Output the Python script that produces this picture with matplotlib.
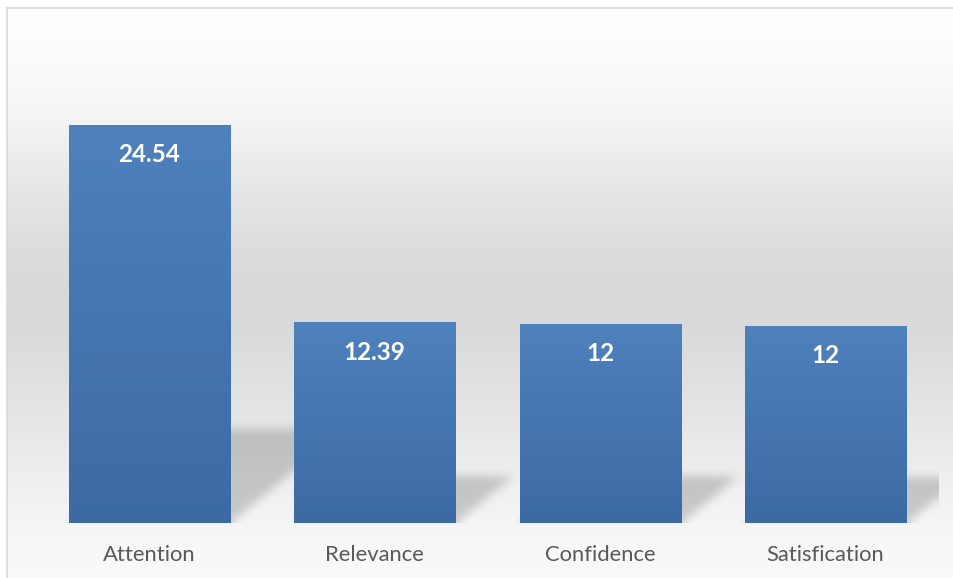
import numpy as np
import matplotlib
matplotlib.use("Agg")
import matplotlib.pyplot as plt
from matplotlib.colors import LinearSegmentedColormap

# chart data
categories = ["Attention", "Relevance", "Confidence", "Satisfication"]
values = [24.54, 12.39, 12.27, 12.15]
value_labels = ["24.54", "12.39", "12", "12"]

plt.rcParams['font.family'] = ['Lato', 'DejaVu Sans']

W_PX, H_PX = 954, 578
fig = plt.figure(figsize=(W_PX / 100, H_PX / 100), dpi=100)

# background panel with white -> grey -> white gradient
bg = fig.add_axes([0, 0, 1, 1])
bg.set_xlim(0, W_PX)
bg.set_ylim(H_PX, 0)
bg.axis('off')
stop_y = [8, 50, 100, 150, 200, 250, 295, 330, 390, 457, 523, 560, 590]
stop_v = [1.0, 0.99, 0.97, 0.935, 0.895, 0.865, 0.85, 0.855, 0.885, 0.925, 0.96, 0.975, 0.98]
rows = np.interp(np.arange(8, 590), stop_y, stop_v)
grad = np.repeat(rows[:, None], 2, axis=1)
bg.imshow(np.dstack([grad] * 3), extent=[7, 960, 590, 8], aspect='auto',
          interpolation='bilinear')
bg.plot([7, 7], [590, 8], color='#d9d9d9', lw=1.2)
bg.plot([7, 960], [8, 8], color='#d9d9d9', lw=1.2)
bg.set_xlim(0, W_PX)
bg.set_ylim(H_PX, 0)

# plot area
left, right, base, ymax = 36.8, 938.0, 523.0, 30.0
sy = 16.22  # px per unit
ax_h = ymax * sy
ax = fig.add_axes([left / W_PX, (H_PX - base) / H_PX, (right - left) / W_PX, ax_h / H_PX])
ax.patch.set_alpha(0)
for s in ax.spines.values():
    s.set_visible(False)

x = np.arange(len(categories))
bw = 0.715
xmin, xmax = -0.5, len(categories) - 0.5

# soft shadows behind the bars
aw, ah = int(round(right - left)), int(round(ax_h))
sx = aw / (xmax - xmin)
PX, PH = np.meshgrid(np.arange(aw) + 0.5, np.arange(ah) + 0.5)
mask = np.zeros((ah, aw))
slope = 0.82
for xi, v in zip(x, values):
    x0 = (xi - bw / 2 - xmin) * sx
    x1 = (xi + bw / 2 - xmin) * sx
    hs = 0.235 * v * sy
    inside = (PH <= hs) & (PX >= x0 + PH / slope) & (PX <= x1 + PH / slope)
    mask[inside] = 1.0


def box_blur(a, r):
    k = 2 * r + 1
    p = np.pad(a, ((0, 0), (r, r)), mode='edge')
    c = np.cumsum(np.pad(p, ((0, 0), (1, 0))), axis=1)
    a = (c[:, k:] - c[:, :-k]) / k
    p = np.pad(a, ((r, r), (0, 0)), mode='edge')
    c = np.cumsum(np.pad(p, ((1, 0), (0, 0))), axis=0)
    return (c[k:, :] - c[:-k, :]) / k


for _ in range(3):
    mask = box_blur(mask, 4)
shadow = np.zeros((ah, aw, 4))
shadow[..., 3] = 0.18 * mask
ax.imshow(shadow, origin='lower', extent=[xmin, xmax, 0, ymax], aspect='auto',
          interpolation='bilinear', zorder=1)

# bars with vertical gradient
bar_cmap = LinearSegmentedColormap.from_list('bar', ['#3c6aa3', '#4f81bd'])
bars = ax.bar(x, values, width=bw, color='#4a7ab5', linewidth=0, zorder=2)
gy = np.linspace(0, 1, 256)[:, None]
for rect in bars:
    im = ax.imshow(gy, cmap=bar_cmap, origin='lower', aspect='auto', zorder=3,
                   extent=[rect.get_x(), rect.get_x() + rect.get_width(), 0, rect.get_height()])
    im.set_clip_path(rect)

for xi, v, lbl in zip(x, values, value_labels):
    ax.annotate(lbl, (xi, v), xytext=(0, -37.5 * 0.72), textcoords='offset points',
                ha='center', va='baseline', color='white', fontsize=17.5,
                fontweight='bold', zorder=4)

ax.set_xlim(xmin, xmax)
ax.set_ylim(0, ymax)
ax.set_yticks([])
ax.set_xticks(x, categories)
ax.tick_params(axis='x', length=0, pad=38 * 0.72, labelsize=15.8, labelcolor='#595959')
for t in ax.get_xticklabels():
    t.set_va('baseline')

fig.savefig('out.png', dpi=100)
